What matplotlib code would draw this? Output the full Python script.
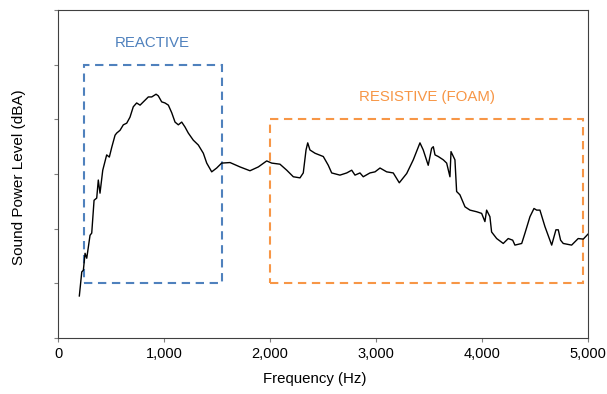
import matplotlib
matplotlib.use("Agg")
import matplotlib.pyplot as plt
from matplotlib.patches import Rectangle

plt.rcParams['font.family'] = ['Liberation Sans', 'DejaVu Sans']

# frequency (Hz) and sound power level (arbitrary dBA scale)
freq = [201, 224, 239, 255, 271, 302, 318, 340, 365, 380, 396, 422, 459, 484, 507,
        538, 554, 585, 616, 648, 679, 710, 742, 774, 805, 852, 884, 925, 946, 978,
        1009, 1041, 1073, 1104, 1135, 1167, 1198, 1229, 1276, 1324, 1371, 1403, 1450,
        1497, 1544, 1623, 1717, 1811, 1890, 1969, 2016, 2094, 2158, 2220, 2283, 2314,
        2340, 2356, 2377, 2425, 2503, 2550, 2582, 2660, 2724, 2771, 2802, 2849, 2880,
        2943, 2991, 3038, 3101, 3163, 3220, 3290, 3352, 3415, 3446, 3493, 3525, 3541,
        3557, 3588, 3635, 3667, 3698, 3708, 3745, 3761, 3792, 3840, 3887, 3950, 3997,
        4028, 4044, 4075, 4091, 4139, 4201, 4248, 4290, 4311, 4375, 4406, 4453, 4491,
        4516, 4547, 4594, 4658, 4698, 4720, 4742, 4767, 4846, 4908, 4956, 5000]
level = [7.7, 12.1, 12.4, 15.5, 14.6, 18.8, 19.2, 25.2, 25.6, 28.9, 26.5, 30.7, 33.5,
         33.1, 34.9, 37.1, 37.5, 38.0, 39.0, 39.3, 40.4, 42.3, 43.0, 42.6, 43.2, 44.1,
         44.1, 44.6, 44.3, 43.2, 43.0, 42.6, 41.2, 39.5, 39.0, 39.5, 38.6, 37.5, 36.2,
         35.3, 33.8, 32.0, 30.4, 31.1, 32.0, 32.1, 31.3, 30.6, 31.3, 32.4, 32.0, 31.8,
         30.7, 29.5, 29.3, 30.2, 34.4, 35.7, 34.4, 33.8, 33.2, 31.6, 30.2, 29.8, 30.2,
         30.7, 29.8, 30.2, 29.5, 30.2, 30.4, 31.1, 30.4, 30.2, 28.4, 30.1, 32.6, 35.7,
         34.4, 31.6, 34.7, 35.0, 33.5, 33.2, 32.6, 32.0, 29.5, 34.1, 32.6, 26.8, 26.2,
         24.0, 23.4, 23.1, 22.8, 21.3, 23.4, 22.2, 19.4, 18.2, 17.3, 18.2, 17.9, 17.0,
         17.3, 19.2, 22.2, 23.7, 23.4, 23.4, 20.4, 17.0, 19.8, 19.8, 17.9, 17.3, 17.0,
         18.2, 18.1, 19.0]

# highlight regions: (f_start, f_end, level_low, level_high)
reactive_box = (245, 1547, 10, 50)
resistive_box = (2000, 4953, 10, 40)

blue = '#4F81BD'
orange = '#F79646'

fig = plt.figure(figsize=(6.07, 3.94), dpi=100)
ax = fig.add_axes([0.0956, 0.142, 0.873, 0.8326])

ax.plot(freq, level, color='black', lw=1.0)

for box, c in [(reactive_box, blue), (resistive_box, orange)]:
    f0, f1, l0, l1 = box
    ax.add_patch(Rectangle((f0, l0), f1 - f0, l1 - l0, fill=False, edgecolor=c,
                           lw=1.5, linestyle=(0, (4, 2.7))))

ax.text(887, 54, 'REACTIVE', color=blue, fontsize=10.8, ha='center', va='center')
ax.text(3481, 44.1, 'RESISTIVE (FOAM)', color=orange, fontsize=10.8, ha='center', va='center')

ax.set_xlim(0, 5000)
ax.set_ylim(0, 60)
ax.set_xticks([0, 1000, 2000, 3000, 4000, 5000])
ax.set_xticklabels(['0', '1,000', '2,000', '3,000', '4,000', '5,000'])
ax.set_yticks(range(0, 61, 10))
ax.set_yticklabels([])
ax.tick_params(direction='out', length=3, color='#808080', labelsize=10.5, pad=3.5)
for s in ax.spines.values():
    s.set_color('#404040')
ax.set_xlabel('Frequency (Hz)', fontsize=10.8)
ax.xaxis.set_label_coords(0.485, -0.102)
ax.set_ylabel('Sound Power Level (dBA)', fontsize=11)
ax.yaxis.set_label_coords(-0.061, 0.49)

fig.savefig('out.png', dpi=100)
